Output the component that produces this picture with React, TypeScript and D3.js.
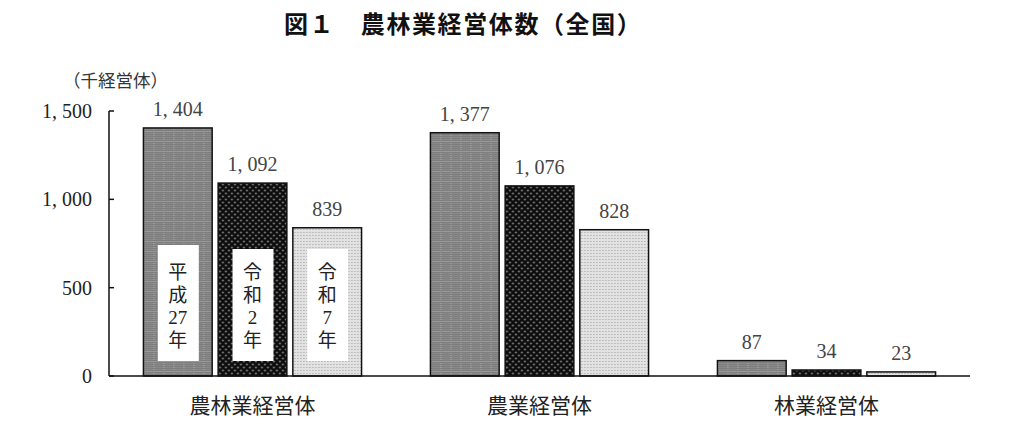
import { useMemo } from 'react'
import * as d3 from 'd3'

const W = 1024, H = 435
const M = { top: 111, right: 54, bottom: 59, left: 109 }

const categories = ['農林業経営体', '農業経営体', '林業経営体']
const seriesKeys = ['h27', 'r2', 'r7']
const valuesH27 = [1404, 1377, 87]
const valuesR2 = [1092, 1076, 34]
const valuesR7 = [839, 828, 23]
const seriesLabels = [['平', '成', '27', '年'], ['令', '和', '2', '年'], ['令', '和', '7', '年']]
const yTicks = [0, 500, 1000, 1500]

const serif = "'Liberation Serif', 'Noto Sans CJK JP', serif"
const fmt = (v: number) => d3.format(',')(v).replace(',', ', ')

export default function App() {
  const iw = W - M.left - M.right
  const ih = H - M.top - M.bottom
  const series = [valuesH27, valuesR2, valuesR7]

  const x0 = useMemo(() => d3.scaleBand<string>().domain(categories).range([0, iw])
    .paddingInner(0.24).paddingOuter(0.12), [iw])
  const x1 = useMemo(() => d3.scaleBand<string>().domain(seriesKeys).range([0, x0.bandwidth()])
    .paddingInner(0.08).paddingOuter(0), [x0])
  const y = useMemo(() => d3.scaleLinear().domain([0, 1500]).range([ih, 0]), [ih])

  const fills = ['url(#patH27)', 'url(#patR2)', 'url(#patR7)']
  const cell = d3.range(0, 10, 2)

  return (
    <svg width={W} height={H} style={{ position: 'absolute', left: 0, top: 0, background: '#fff' }}>
      <defs>
        {/* medium grey, fine checker with faint lighter grid */}
        <pattern id="patH27" width="10" height="10" patternUnits="userSpaceOnUse">
          <rect width="10" height="10" fill="#7e7e7e" />
          {cell.map(a => cell.map(b => (
            <rect key={`${a}-${b}`} x={a} y={b} width="1" height="1" fill="#939393" />
          )))}
          {cell.map(a => (
            <g key={a}>
              <rect x={a} y="0" width="1" height="1" fill="#b4b4b4" />
              <rect x="0" y={a} width="1" height="1" fill="#b4b4b4" />
            </g>
          ))}
        </pattern>
        <pattern id="patR2" width="6" height="6" patternUnits="userSpaceOnUse">
          <rect width="6" height="6" fill="#0c0c0c" />
          <circle cx="1.5" cy="1.5" r="0.9" fill="#9a9a9a" />
          <circle cx="4.5" cy="4.5" r="0.9" fill="#9a9a9a" />
        </pattern>
        <pattern id="patR7" width="3" height="3" patternUnits="userSpaceOnUse">
          <rect width="3" height="3" fill="#e2e2e2" />
          <rect x="1" y="1" width="1" height="1" fill="#9c9c9c" />
        </pattern>
      </defs>

      <text x={284} y={33} fontFamily="'Noto Sans CJK JP', sans-serif" fontWeight="bold"
        fontSize={24} letterSpacing={1.6} fill="#111">図１　農林業経営体数（全国）</text>

      <g transform={`translate(${M.left},${M.top})`}>
        <text x={-46} y={-24} fontFamily={serif} fontSize={17.5} fill="#333">（千経営体）</text>

        {/* bars */}
        {categories.map((c, ci) => (
          <g key={c} transform={`translate(${x0(c)},0)`}>
            {seriesKeys.map((k, si) => {
              const v = series[si][ci]
              const bx = x1(k)!
              return (
                <g key={k}>
                  <rect x={bx} y={y(v)} width={x1.bandwidth()} height={ih - y(v)}
                    fill={fills[si]} stroke="#111" strokeWidth={1.5} />
                  <text x={bx + x1.bandwidth() / 2} y={y(v) - 12} textAnchor="middle"
                    fontFamily={serif} fontSize={20} fill="#444">{fmt(v)}</text>
                </g>
              )
            })}
          </g>
        ))}

        {/* series labels inside first group */}
        {seriesKeys.map((k, si) => {
          const bx = x0(categories[0])! + x1(k)!
          const cx = bx + x1.bandwidth() / 2
          return (
            <g key={k}>
              <rect x={cx - 20} y={si === 0 ? ih - 131 : ih - 127} width={41}
                height={si === 0 ? 116 : 112} fill="#fff" />
              {seriesLabels[si].map((t, li) => (
                <text key={li} x={cx} y={ih - 97 + li * 22.5} textAnchor="middle"
                  fontFamily={serif} fontSize={19} fill="#222">{t}</text>
              ))}
            </g>
          )
        })}

        {/* y axis */}
        <line x1={0} x2={0} y1={y(1500)} y2={ih} stroke="#111" strokeWidth={1.5} />
        {yTicks.map(t => (
          <g key={t} transform={`translate(0,${y(t)})`}>
            <line x1={0} x2={5} stroke="#111" strokeWidth={1.5} />
            <text x={-17} y={7} textAnchor="end" fontFamily={serif} fontSize={20}
              fill="#222">{fmt(t)}</text>
          </g>
        ))}
        <line x1={0} x2={iw} y1={ih} y2={ih} stroke="#111" strokeWidth={1.5} />

        {/* category labels */}
        {categories.map(c => (
          <text key={c} x={x0(c)! + x0.bandwidth() / 2} y={ih + 37} textAnchor="middle"
            fontFamily={serif} fontSize={21} fill="#222">{c}</text>
        ))}
      </g>
    </svg>
  )
}
